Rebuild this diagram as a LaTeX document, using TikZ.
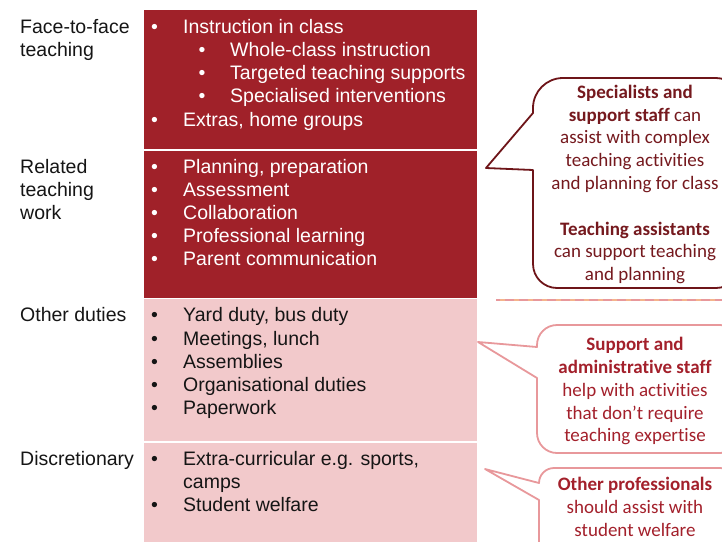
\documentclass[tikz,border=0pt]{standalone}
\usepackage{fontspec}
\setmainfont{Liberation Sans}
\newfontfamily\calfont[Ligatures={NoCommon,NoRequired}]{Carlito}
\definecolor{darkblk}{HTML}{A02129}
\definecolor{lightblk}{HTML}{F2C9CB}
\definecolor{maroonline}{HTML}{6E1519}
\definecolor{maroontxt}{HTML}{75191E}
\definecolor{pinkline}{HTML}{E8989B}
\definecolor{redtxt}{HTML}{A3202B}
\definecolor{dashorange}{HTML}{F4B48C}
\definecolor{darktxt}{HTML}{151515}
\begin{document}
\begin{tikzpicture}[x=1pt,y=-1pt,
  lbl/.style={anchor=base west, inner sep=0pt, font=\fontsize{19.5}{23.2}\selectfont, text=darktxt},
  bul/.style={anchor=base, inner sep=0pt, font=\fontsize{19.5}{23.2}\selectfont},
  itm/.style={anchor=base west, inner sep=0pt, font=\fontsize{19.5}{23.2}\selectfont},
  onDark/.style={text=white},
  onLight/.style={text=darktxt},
  ctxt/.style={anchor=base, inner sep=0pt, font=\calfont\fontsize{19}{22.8}\selectfont},
  dcall/.style={draw=maroonline, line width=1.8pt, fill=white, line join=round},
  lcall/.style={draw=pinkline, line width=1.8pt, fill=white, line join=round},
  blkD/.style={fill=darkblk, draw=none},
  blkL/.style={fill=lightblk, draw=none}
]
\useasboundingbox (0,0) rectangle (722,541);
\clip (0,0) rectangle (722,541);

% blocks
\fill[blkD] (144,10) rectangle (476.5,149.3);
\fill[blkD] (144,150.7) rectangle (476.5,297.5);
\fill[blkL] (144,299) rectangle (476.5,441);
\fill[blkL] (144,442.5) rectangle (476.5,545);

% left labels
\node[lbl] (l1a) at (20,33.3) {Face-to-face};
\node[lbl] (l1b) at (20,56.5) {teaching};
\node[lbl] (l2a) at (20,173) {Related};
\node[lbl] (l2b) at (20,196.2) {teaching};
\node[lbl] (l2c) at (20,219.4) {work};
\node[lbl] (l3) at (20,321.7) {Other duties};
\node[lbl] (l4) at (20,465) {Discretionary};

% block 1
\node[bul,onDark] (b1a) at (154.5,33.3) {•};
\node[itm,onDark] (t1a) at (183,33.3) {Instruction in class};
\node[bul,onDark] (b1b) at (202,56.5) {•};
\node[itm,onDark] (t1b) at (230,56.5) {Whole-class instruction};
\node[bul,onDark] (b1c) at (202,79.7) {•};
\node[itm,onDark] (t1c) at (230,79.7) {Targeted teaching supports};
\node[bul,onDark] (b1d) at (202,102.9) {•};
\node[itm,onDark] (t1d) at (230,102.9) {Specialised interventions};
\node[bul,onDark] (b1e) at (154.5,126.1) {•};
\node[itm,onDark] (t1e) at (183,126.1) {Extras, home groups};

% block 2
\node[bul,onDark] (b2a) at (154.5,173) {•};
\node[itm,onDark] (t2a) at (183,173) {Planning, preparation};
\node[bul,onDark] (b2b) at (154.5,196.2) {•};
\node[itm,onDark] (t2b) at (183,196.2) {Assessment};
\node[bul,onDark] (b2c) at (154.5,219.4) {•};
\node[itm,onDark] (t2c) at (183,219.4) {Collaboration};
\node[bul,onDark] (b2d) at (154.5,242.6) {•};
\node[itm,onDark] (t2d) at (183,242.6) {Professional learning};
\node[bul,onDark] (b2e) at (154.5,265.8) {•};
\node[itm,onDark] (t2e) at (183,265.8) {Parent communication};

% block 3
\node[bul,onLight] (b3a) at (154.5,321.7) {•};
\node[itm,onLight] (t3a) at (183,321.7) {Yard duty, bus duty};
\node[bul,onLight] (b3b) at (154.5,345) {•};
\node[itm,onLight] (t3b) at (183,345) {Meetings, lunch};
\node[bul,onLight] (b3c) at (154.5,368.3) {•};
\node[itm,onLight] (t3c) at (183,368.3) {Assemblies};
\node[bul,onLight] (b3d) at (154.5,391.6) {•};
\node[itm,onLight] (t3d) at (183,391.6) {Organisational duties};
\node[bul,onLight] (b3e) at (154.5,414.9) {•};
\node[itm,onLight] (t3e) at (183,414.9) {Paperwork};

% block 4
\node[bul,onLight] (b4a) at (154.5,465) {•};
\node[itm,onLight] (t4a) at (183,465) {Extra-curricular e.g. sports,};
\node[itm,onLight] (t4b) at (183,488.2) {camps};
\node[bul,onLight] (b4c) at (154.5,511.4) {•};
\node[itm,onLight] (t4c) at (183,511.4) {Student welfare};

% dashed separator line
\draw[pinkline, line width=1.6pt] (496,300) -- (722,300);
\draw[dashorange, line width=1.6pt, dash pattern=on 5pt off 9pt] (500,300) -- (722,300);

% callout 1
\draw[dcall] (533,113) -- (533,108) arc[start angle=180,end angle=270,radius=30]
  -- (716,78) arc[start angle=270,end angle=360,radius=24]
  -- (740,264) arc[start angle=0,end angle=90,radius=24]
  -- (557,288) arc[start angle=90,end angle=180,radius=24]
  -- (533,170) -- (486,168) -- cycle;
\begin{scope}[every node/.append style={text=maroontxt}]
\node[ctxt] (c1a) at (635,98.3) {\bfseries Specialists and};
\node[ctxt] (c1b) at (635,121.1) {\textbf{support staff} can};
\node[ctxt] (c1c) at (635,143.9) {assist with complex};
\node[ctxt] (c1d) at (635,166.7) {teaching activities};
\node[ctxt] (c1e) at (635,189.5) {and planning for class};
\node[ctxt] (c1f) at (635,235.1) {\bfseries Teaching assistants};
\node[ctxt] (c1g) at (635,257.9) {can support teaching};
\node[ctxt] (c1h) at (635,280.7) {and planning};
\end{scope}

% callout 2
\draw[lcall] (537,347) -- (537,345) arc[start angle=180,end angle=270,radius=20]
  -- (720,325) arc[start angle=270,end angle=360,radius=20]
  -- (740,433) arc[start angle=0,end angle=90,radius=20]
  -- (557,453) arc[start angle=90,end angle=180,radius=20]
  -- (537,378) -- (478,342) -- cycle;
\begin{scope}[every node/.append style={text=redtxt}]
\node[ctxt] (c2a) at (635,350.7) {\bfseries Support and};
\node[ctxt] (c2b) at (635,373.5) {\bfseries administrative staff};
\node[ctxt] (c2c) at (635,396.3) {help with activities};
\node[ctxt] (c2d) at (635,419.1) {that don’t require};
\node[ctxt] (c2e) at (635,441.9) {teaching expertise};
\end{scope}

% callout 3
\draw[lcall] (539,483) arc[start angle=180,end angle=270,radius=15]
  -- (720,468) arc[start angle=270,end angle=360,radius=20]
  -- (740,570) -- (539,570)
  -- (539,500) -- (485,469) -- cycle;
\begin{scope}[every node/.append style={text=redtxt}]
\node[ctxt] (c3a) at (635,490.7) {\bfseries Other professionals};
\node[ctxt] (c3b) at (635,513.5) {should assist with};
\node[ctxt] (c3c) at (635,536.3) {student welfare};
\end{scope}
\end{tikzpicture}
\end{document}
